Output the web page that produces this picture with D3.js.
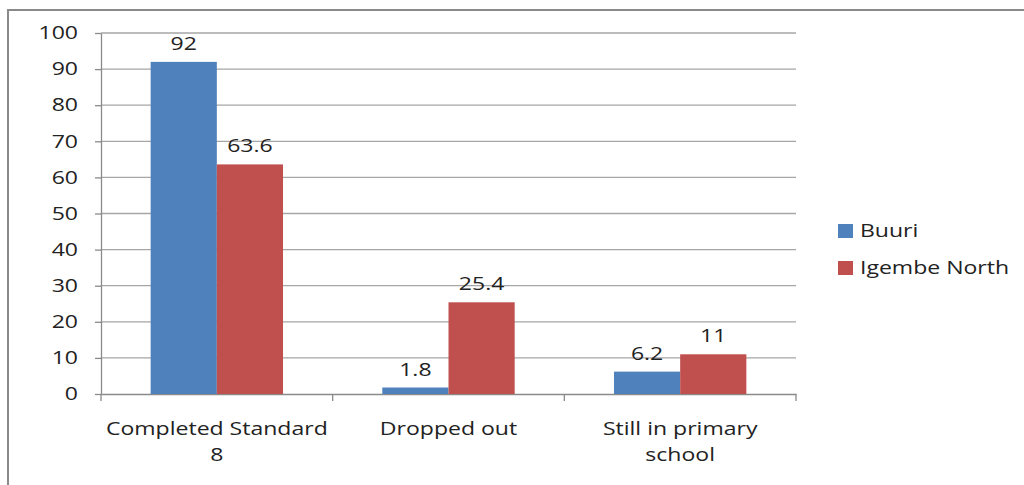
<!DOCTYPE html>
<html>
<head>
<meta charset="utf-8">
<script src="https://cdn.jsdelivr.net/npm/d3@7"></script>
<style>
  html, body { margin: 0; padding: 0; background: #fff; }
  svg text { font-family: "Open Sans", sans-serif; fill: #222; }
</style>
</head>
<body>
<svg id="chart" width="1024" height="485"></svg>
<script>
// School status by district (percent)
const categories = [["Completed Standard", "8"], ["Dropped out"], ["Still in primary", "school"]];
const seriesNames = ["Buuri", "Igembe North"];
const buuri = [92, 1.8, 6.2];
const igembeNorth = [63.6, 25.4, 11];
const yTicks = [0, 10, 20, 30, 40, 50, 60, 70, 80, 90, 100];
const colors = ["#4F81BD", "#C0504D"];

// the text in this chart is set in a wide face; widen glyphs horizontally
const STRETCH = 1.28;
function widen(sel) {
  sel.each(function () {
    const t = d3.select(this);
    const x = +t.attr("x") || 0;
    const y = +t.attr("y") || 0;
    t.attr("x", 0).attr("y", 0)
      .attr("transform", `translate(${x},${y}) scale(${STRETCH},1)`);
    t.selectAll("tspan").attr("x", 0);
  });
}

const svg = d3.select("#chart");

// outer chart frame
svg.append("rect")
  .attr("x", 8).attr("y", 10).attr("width", 1030).attr("height", 500)
  .attr("fill", "none").attr("stroke", "#8a8a8a").attr("stroke-width", 2);

const plot = { left: 101, right: 796, top: 33, bottom: 394 };

const x0 = d3.scaleBand()
  .domain(categories.map((d, i) => i))
  .range([plot.left, plot.right])
  .paddingInner(0).paddingOuter(0);

const x1 = d3.scaleBand()
  .domain(seriesNames)
  .range([0, x0.bandwidth()])
  .paddingInner(0)
  .paddingOuter(0.75);

const y = d3.scaleLinear().domain([0, 100]).range([plot.bottom, plot.top]);

// gridlines
svg.append("g")
  .selectAll("line")
  .data(yTicks.filter(t => t > 0))
  .join("line")
  .attr("x1", plot.left).attr("x2", plot.right)
  .attr("y1", d => y(d)).attr("y2", d => y(d))
  .attr("stroke", "#a6a6a6").attr("stroke-width", 1.3);

// y axis
const yAxis = svg.append("g")
  .attr("transform", `translate(${plot.left},0)`)
  .call(d3.axisLeft(y).tickValues(yTicks).tickSize(6).tickPadding(17).tickSizeOuter(0));
yAxis.select(".domain").attr("stroke", "#8a8a8a").attr("stroke-width", 1.3);
yAxis.selectAll(".tick line").attr("stroke", "#8a8a8a").attr("stroke-width", 1.3);
yAxis.selectAll(".tick text").attr("font-size", 18).attr("font-family", "Open Sans, sans-serif").attr("fill", "#222");
widen(yAxis.selectAll(".tick text"));

// x axis
const xAxis = svg.append("g")
  .attr("transform", `translate(0,${plot.bottom})`)
  .call(d3.axisBottom(x0).tickValues([]).tickSizeOuter(0));
xAxis.select(".domain").attr("stroke", "#8a8a8a").attr("stroke-width", 1.3);
// category separators
svg.append("g")
  .selectAll("line")
  .data(d3.range(categories.length + 1))
  .join("line")
  .attr("x1", i => plot.left + i * x0.step())
  .attr("x2", i => plot.left + i * x0.step())
  .attr("y1", plot.bottom).attr("y2", plot.bottom + 7)
  .attr("stroke", "#8a8a8a").attr("stroke-width", 1.3);

// category labels
const catLabels = svg.append("g")
  .selectAll("text")
  .data(categories)
  .join("text")
  .attr("text-anchor", "middle")
  .attr("font-size", 18)
  .attr("x", (d, i) => x0(i) + x0.bandwidth() / 2)
  .attr("y", 435);
catLabels.selectAll("tspan")
  .data(d => d)
  .join("tspan")
  .attr("dy", (d, i) => i === 0 ? 0 : 26)
  .text(d => d);
widen(catLabels);

// bars
const rows = categories.map((c, i) => ({ i, values: [buuri[i], igembeNorth[i]] }));
const groups = svg.append("g")
  .selectAll("g")
  .data(rows)
  .join("g")
  .attr("transform", d => `translate(${x0(d.i)},0)`);

groups.selectAll("rect")
  .data(d => d.values.map((v, k) => ({ v, k })))
  .join("rect")
  .attr("x", d => x1(seriesNames[d.k]))
  .attr("width", x1.bandwidth())
  .attr("y", d => y(d.v))
  .attr("height", d => y(0) - y(d.v))
  .attr("fill", d => colors[d.k]);

const valueLabels = groups.selectAll("text")
  .data(d => d.values.map((v, k) => ({ v, k })))
  .join("text")
  .attr("text-anchor", "middle")
  .attr("font-size", 18)
  .attr("x", d => x1(seriesNames[d.k]) + x1.bandwidth() / 2)
  .attr("y", d => y(d.v) - 12)
  .text(d => d.v);
widen(valueLabels);

// legend
const legend = svg.append("g")
  .selectAll("g")
  .data(seriesNames)
  .join("g")
  .attr("transform", (d, i) => `translate(838,${224 + i * 37})`);
legend.append("rect")
  .attr("width", 15).attr("height", 14)
  .attr("fill", (d, i) => colors[i]);
const legendText = legend.append("text")
  .attr("x", 22).attr("y", 13)
  .attr("font-size", 18)
  .text(d => d);
widen(legendText);
</script>
</body>
</html>
